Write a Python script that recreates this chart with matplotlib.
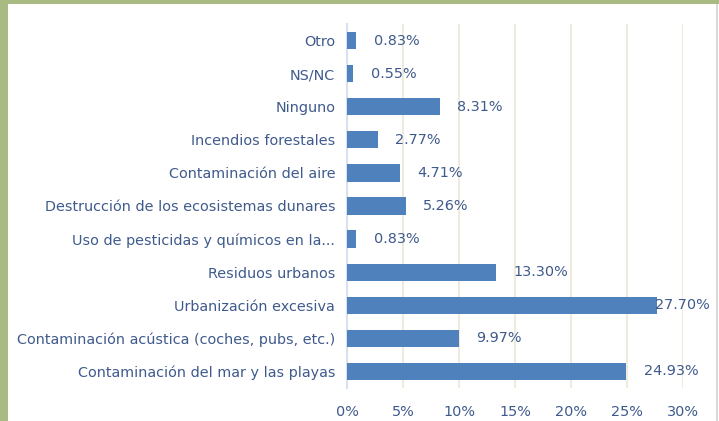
import matplotlib.pyplot as plt
from matplotlib.patches import Rectangle

categories = ["Otro", "NS/NC", "Ninguno", "Incendios forestales",
              "Contaminación del aire", "Destrucción de los ecosistemas dunares",
              "Uso de pesticidas y químicos en la...", "Residuos urbanos",
              "Urbanización excesiva", "Contaminación acústica (coches, pubs, etc.)",
              "Contaminación del mar y las playas"]
values = [0.83, 0.55, 8.31, 2.77, 4.71, 5.26, 0.83, 13.30, 27.70, 9.97, 24.93]
labels = ["0.83%", "0.55%", "8.31%", "2.77%", "4.71%", "5.26%", "0.83%",
          "13.30%", "27.70%", "9.97%", "24.93%"]
xticks = [0, 5, 10, 15, 20, 25, 30]

text_col = "#3F5A8C"
bar_col = "#4F81BD"
plt.rcParams['font.family'] = ['DejaVu Sans']
fs = 10.4

fig = plt.figure(figsize=(7.19, 4.21), dpi=100)
fig.patch.set_facecolor("white")
# green frame top and left
fig.patches.append(Rectangle((0, 1 - 4/421), 1, 4/421, transform=fig.transFigure,
                             facecolor="#A9BA83", edgecolor="none"))
fig.patches.append(Rectangle((0, 0), 8/719, 1, transform=fig.transFigure,
                             facecolor="#A9BA83", edgecolor="none"))
fig.patches.append(Rectangle((716/719, 0), 1.5/719, 1 - 4/421, transform=fig.transFigure,
                             facecolor="#D9D9D9", edgecolor="none"))

ax = fig.add_axes([347/719, 1 - 388/421, (683 - 347)/719, (388 - 24)/421])
y = list(range(len(categories)))
ax.barh(y, values, height=0.52, color=bar_col, zorder=3)
ax.set_ylim(len(categories) - 0.5, -0.5)
ax.set_xlim(0, 30)
ax.set_yticks(y)
ax.set_yticklabels(categories, color=text_col, fontsize=fs)
ax.set_xticks(xticks)
ax.set_xticklabels([f"{t}%" for t in xticks], color=text_col, fontsize=fs)
ax.tick_params(axis="both", length=0)
ax.tick_params(axis="y", pad=8.5)
ax.tick_params(axis="x", pad=12)
ax.grid(axis="x", color="#EEEAE0", linewidth=1.5, zorder=0)
for s in ["top", "right", "bottom"]:
    ax.spines[s].set_visible(False)
ax.spines["left"].set_color("#D6E2F2")
ax.spines["left"].set_linewidth(1.5)

for yi, v, lab in zip(y, values, labels):
    ax.text(min(v + 1.55, 27.5), yi, lab, va="center", ha="left",
            color=text_col, fontsize=fs, zorder=4, clip_on=False)

fig.savefig("out.png", dpi=100, facecolor=fig.get_facecolor())
